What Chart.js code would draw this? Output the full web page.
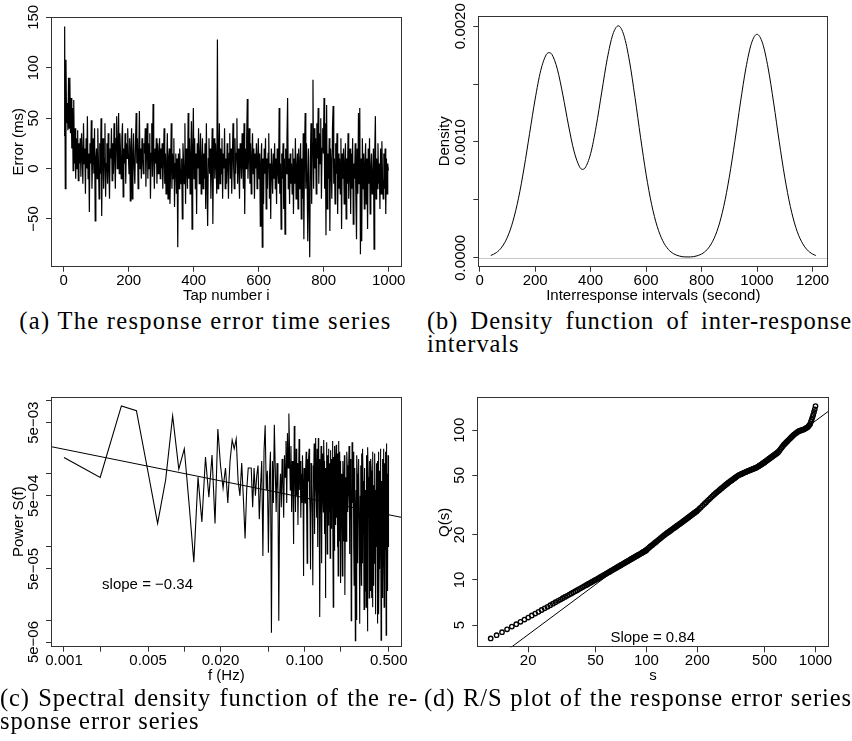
<!DOCTYPE html>
<html>
<head>
<meta charset="utf-8">
<title>Response error analysis</title>
<script src="https://cdn.jsdelivr.net/npm/chart.js@4.4.1/dist/chart.umd.min.js"></script>
<style>
  html, body { margin: 0; padding: 0; background: #fff; }
  #page { position: relative; width: 852px; height: 741px; overflow: hidden; }
  canvas { position: absolute; }
  .cap { position: absolute; font-family: "Liberation Serif", "Times New Roman", serif; font-size: 24.5px; line-height: 23px; letter-spacing: 0.9px; color: #000; }
  .cap .j { text-align: justify; text-align-last: justify; }
</style>
</head>
<body>
<div id="page">
  <canvas id="errChart" width="426" height="305" style="left:0;top:0"></canvas>
  <canvas id="densChart" width="426" height="305" style="left:426px;top:0"></canvas>
  <canvas id="specChart" width="426" height="305" style="left:0;top:380px"></canvas>
  <canvas id="rsChart" width="426" height="305" style="left:426px;top:380px"></canvas>

  <div class="cap" style="left:0;top:309px;width:411px;text-align:center;letter-spacing:1.3px">(a) The response error time series</div>
  <div class="cap" style="left:427px;top:309px;width:425px"><div class="j">(b) Density function of inter-response</div><div>intervals</div></div>
  <div class="cap" style="left:0;top:686px;width:418px"><div class="j">(c) Spectral density function of the re-</div><div>sponse error series</div></div>
  <div class="cap" style="left:424px;top:686px;width:428px"><div class="j">(d) R/S plot of the response error series</div></div>
</div>

<script>
// ---- (a) response error (ms), every second tap starting at tap 1
const tapFirst = 1;
const tapStep = 2;
const errorMs = [
  33, 141, -20, 108, 45, 65, 38, 90, 40, 90, 35, 70, 20, 60, -2, 68, 5, 40, -10, 30, 0, 38, -12, 25, 5,
  30, -8, 35, 15, -15, 45, 5, 20, -25, 30, 0, 52, -10, 15, -43, 25, 5, 48, -20, 10, 30, -5, 40, -52, 10,
  20, -10, 40, 5, -30, 25, -5, 50, -47, 15, 30, -20, 10, 45, -28, 5, 25, -15, 35, 0, -30, 20, 10, 40, -12,
  25, -5, 45, 10, -20, 30, 52, 0, 20, 55, -5, 35, 15, -10, 30, 45, -28, 20, 5, 35, -15, 25, 10, 40, 15,
  -5, 30, -32, 20, 40, -30, 10, 35, 0, -15, 25, 55, 5, 30, -20, 15, 57, 0, 20, -10, 30, 10, -5, 25, 15,
  40, -18, 20, 45, -10, 25, 0, 35, -30, 15, 45, -8, 64, 10, -20, 20, 5, 30, -15, 25, -5, 15, 30, -10, 20,
  0, 25, -20, 10, 40, -15, 15, -25, 5, 35, -30, 10, 20, -35, 0, 45, -20, 15, -10, 30, -38, 5, 15, -25, 10,
  -78, 15, -20, 20, 0, -15, 10, -50, 25, 5, -15, 45, -35, 20, 0, -20, 55, -10, 30, -25, 10, 47, -60, 20, 60,
  -10, 30, -20, 15, -45, 25, 0, 40, -15, 10, 35, -25, 5, 30, -20, 15, -10, 25, -40, 45, -15, -57, 10, 30, -5,
  20, -30, 5, 40, -55, 15, 30, -10, 25, 5, -25, 128, -20, 10, 45, -15, 20, -5, 30, -30, 15, 0, 40, -20, 10,
  -15, 25, 5, -30, 15, 35, -10, 20, -25, 10, 45, 0, -20, 30, -5, 15, 50, -15, 20, 0, -30, 25, 10, -10, 35,
  5, -20, 45, -45, 20, 0, 30, 69, -10, 15, 40, -15, 25, -25, 10, 35, -5, 20, -30, 15, 0, 25, -20, 10, 30,
  -10, 15, -57, 5, 25, -78, 10, -35, 20, -5, 30, -40, 10, -20, 15, 35, -30, 5, -50, 20, 0, -25, 15, -10, 25,
  -20, 10, -35, 20, 0, -15, 60, -25, 5, -60, 15, -10, 25, -40, 10, -65, 20, -5, 30, 70, -20, 10, -35, 15, -15,
  5, -25, 20, -45, 10, -15, 30, -30, 0, 15, -40, 20, -20, 5, 25, -50, 10, -30, 35, -70, 15, 55, -20, 25, -10,
  -72, 20, -30, -88, 10, 45, -35, 25, 88, -20, 40, 0, 30, -25, 45, 10, 60, -15, 35, 5, 50, -30, 20, 40, 15,
  70, -20, 45, -66, 63, -40, 15, -10, 30, -62, 20, 5, -30, 40, 62, -15, 10, -35, 25, -5, 35, -45, 15, -20, 10,
  -25, 30, -60, 15, -10, 20, -35, 5, 25, -50, 10, -15, 35, -30, 0, 20, -45, 15, -20, 30, -55, 5, -10, 25, -30,
  -70, 20, -25, 55, -15, 60, -85, 10, -72, 30, -20, 15, -40, 5, 25, -35, 10, -60, 20, -15, 30, -45, 0, 15, -25,
  -10, 20, -80, 15, 52, -30, 10, -20, 25, -15, 5, -40, 20, -25, 27, -10, -30, 15, -20, 20, -45, 10, -25, 5, -2
];
const errXTicks = [0, 200, 400, 600, 800, 1000];
const errYTicks = [-50, 0, 50, 100, 150];
const errYLabels = ['\u221250', '0', '50', '100', '150'];

// ---- (b) density of inter-response intervals
const iriSeconds = [40, 60, 80, 100, 120, 140, 160, 180, 200, 220, 240, 250, 260, 280, 300, 320, 340, 360, 370, 380,
  400, 420, 440, 460, 480, 500, 520, 540, 560, 580, 600, 620, 640, 660, 680, 700, 720, 740, 760, 780,
  800, 820, 840, 860, 880, 900, 920, 940, 960, 980, 1000, 1020, 1040, 1060, 1080, 1100, 1120, 1140, 1160, 1180, 1200, 1212];
const iriDensity = [0.0000196, 0.0000444, 0.0000927, 0.000178, 0.000316, 0.000515, 0.000775, 0.001074, 0.001371, 0.001616,
  0.001754, 0.001771, 0.001758, 0.001629, 0.001405, 0.001147, 0.000922, 0.000786, 0.000764, 0.000776,
  0.000899, 0.001134, 0.001430, 0.001719, 0.001928, 0.002003, 0.001921, 0.001699, 0.001385, 0.001041,
  0.000721, 0.000460, 0.000271, 0.000147, 0.000073, 0.000034, 0.000015, 0.0000075, 0.0000074, 0.0000145,
  0.0000326, 0.0000708, 0.000142, 0.000261, 0.000444, 0.000696, 0.001004, 0.001337, 0.001639, 0.001853,
  0.001930, 0.001853, 0.001639, 0.001337, 0.001004, 0.000696, 0.000444, 0.000261, 0.000142, 0.0000708, 0.0000326, 0.0000197];
const densXTicks = [0, 200, 400, 600, 800, 1000, 1200];
const densYTicks = [0, 0.0005, 0.001, 0.0015, 0.002];
const densYLabels = ['0.0000', '', '0.0010', '', '0.0020'];

// ---- (c) periodogram, Fourier index k (f = k / 1000)
const seriesLength = 1000;
const specBins = [[1, 200, 1], [202, 500, 2]];
const specPower = [
  // k = 1 .. 100
  1.67e-3, 8.9e-4, 8.5e-3, 7.3e-3, 1.05e-3, 2.1e-4, 8.3e-4, 6.2e-3, 1.16e-3, 2.2e-3,
  3.6e-4, 6.2e-5, 9.0e-4, 2.2e-4, 1.7e-3, 4.8e-4, 1.8e-3, 2.1e-4, 4.1e-3, 1.3e-3,
  6.4e-4, 1.2e-3, 4.0e-4, 1.5e-3, 2.9e-3, 2.2e-3, 3.0e-3, 8.0e-4, 5.0e-4, 1.4e-3,
  4.5e-4, 1.3e-4, 6.0e-4, 1.2e-3, 1.2e-3, 1.2e-3, 3.5e-4, 1.2e-3, 5.0e-4, 9.5e-4,
  1.3e-3, 2.4e-4, 6.5e-4, 1.5e-3, 7.5e-5, 2.1e-3, 4.6e-3, 6.0e-4, 1.1e-3, 8.3e-5,
  9.0e-4, 2.0e-3, 6.7e-6, 1.5e-3, 4.0e-4, 4.7e-3, 1.2e-3, 3.0e-4, 1.4e-3, 6.0e-4,
  9.8e-6, 5.0e-4, 1.0e-3, 3.5e-4, 1.6e-3, 7.0e-4, 2.5e-4, 1.8e-3, 9.0e-4, 2.8e-3,
  4.0e-4, 3.6e-3, 1.2e-3, 6.7e-3, 2.0e-3, 6.0e-4, 2.4e-3, 3.0e-4, 1.5e-3, 7.0e-4,
  1.1e-4, 4.5e-3, 1.0e-3, 3.0e-4, 2.2e-3, 5.0e-4, 1.4e-3, 2.0e-4, 8.0e-4, 3.0e-3,
  6.0e-4, 1.5e-3, 2.5e-4, 1.0e-3, 4.0e-4, 1.8e-3, 7.0e-4, 4.0e-5, 1.2e-3, 5.0e-4,
  // k = 101 .. 200
  4.0e-4, 1.1e-3, 2.0e-3, 3.0e-4, 6.0e-5, 1.6e-3, 8.0e-4, 1.7e-3, 2.2e-3, 5.0e-4,
  3.0e-4, 4.9e-5, 1.4e-3, 9.0e-4, 7.0e-4, 2.0e-4, 3.0e-5, 1.3e-3, 9.0e-4, 2.6e-3,
  1.5e-4, 6.0e-4, 1.2e-3, 3.1e-3, 5.0e-4, 2.5e-4, 2.2e-3, 1.4e-3, 1.0e-4, 3.1e-3,
  8.0e-4, 7.0e-4, 1.6e-3, 1.1e-5, 4.0e-4, 1.0e-3, 2.4e-3, 3.5e-4, 6.0e-5, 1.9e-3,
  1.1e-3, 6.0e-4, 3.0e-4, 2.9e-3, 1.5e-3, 1.5e-4, 7.0e-4, 1.2e-3, 2.0e-5, 4.0e-4,
  1.0e-3, 2.7e-3, 4.5e-4, 8.0e-5, 1.8e-3, 9.0e-4, 2.0e-4, 2.2e-3, 6.0e-4, 3.0e-4,
  1.4e-3, 1.3e-3, 7.0e-5, 5.0e-4, 2.1e-3, 1.8e-4, 9.0e-4, 1.6e-3, 3.5e-4, 2.8e-3,
  1.2e-3, 4.5e-4, 1.5e-5, 1.0e-3, 1.7e-3, 9.0e-5, 5.0e-4, 2.4e-3, 1.1e-3, 6.0e-4,
  2.0e-4, 1.2e-3, 2.5e-3, 2.5e-4, 6.0e-4, 1.9e-3, 1.0e-4, 7.0e-4, 1.4e-3, 4.0e-5,
  8.0e-4, 1.1e-3, 2.8e-3, 3.0e-4, 1.2e-4, 2.0e-3, 9.0e-4, 5.0e-4, 1.5e-3, 3.2e-5,
  // k = 202 .. 500, even
  1.0e-3, 6.0e-4, 4.0e-5, 1.5e-3, 7.0e-4, 1.2e-4, 1.8e-3, 2.2e-5, 3.0e-4, 9.0e-4,
  1.2e-4, 2.0e-3, 1.3e-3, 3.0e-4, 5.0e-4, 1.1e-3, 2.4e-3, 8.0e-5, 2.0e-4, 1.6e-3,
  8.0e-4, 9.8e-6, 1.5e-5, 2.7e-3, 1.1e-3, 4.0e-4, 2.0e-3, 1.0e-4, 3.0e-5, 1.2e-3,
  7.0e-4, 5.2e-6, 2.5e-4, 6.0e-4, 1.0e-5, 1.8e-3, 1.0e-3, 6.0e-5, 4.0e-4, 8.0e-4,
  1.6e-3, 2.0e-4, 2.0e-5, 8.9e-6, 5.0e-4, 1.3e-3, 1.5e-4, 3.0e-5, 1.9e-3, 7.0e-4,
  6.0e-5, 2.2e-3, 8.0e-4, 1.5e-4, 3.0e-4, 1.4e-5, 1.2e-3, 9.0e-4, 2.5e-5, 3.5e-4,
  6.0e-4, 1.5e-5, 1.8e-3, 1.4e-3, 1.2e-4, 5.0e-5, 7.0e-6, 2.3e-3, 9.0e-4, 2.5e-4,
  3.5e-4, 2.0e-5, 1.5e-3, 1.0e-3, 1.0e-4, 6.0e-5, 2.5e-5, 1.6e-3, 1.1e-3, 2.0e-5,
  5.0e-4, 4.0e-4, 1.5e-5, 1.2e-3, 2.0e-3, 3.0e-5, 2.0e-4, 7.0e-4, 6.0e-5, 1.5e-4,
  9.0e-4, 1.9e-3, 3.0e-4, 4.0e-5, 1.2e-5, 6.0e-4, 1.4e-3, 1.0e-4, 4.0e-4, 1.3e-3,
  7.0e-5, 9.0e-6, 1.5e-3, 5.0e-4, 2.5e-4, 2.0e-3, 1.2e-5, 7.0e-5, 1.0e-3, 1.1e-3,
  5.0e-5, 2.5e-4, 6.0e-4, 2.2e-3, 1.8e-3, 5.3e-6, 8.0e-5, 8.0e-4, 4.0e-4, 1.5e-4,
  2.0e-5, 1.6e-3, 1.2e-3, 3.0e-5, 3.0e-4, 9.0e-4, 2.2e-3, 2.0e-4, 1.5e-5, 1.4e-3,
  6.0e-4, 5.0e-5, 1.1e-3, 7.0e-4, 9.0e-5, 2.0e-3, 1.6e-3, 6.2e-6, 3.5e-4, 2.6e-3,
  1.0e-3, 3.0e-4, 2.5e-5, 1.0e-3, 7.0e-4, 3.9e-5, 1.8e-3, 1.2e-3, 2.0e-4, 1.0e-4
];
const specFitF = [0.0007, 0.7];
const specFitP = [2.44e-3, 2.46e-4];
const specXTicks = [0.001, 0.002, 0.005, 0.01, 0.02, 0.05, 0.1, 0.2, 0.5];
const specXLabels = ['0.001', '', '0.005', '', '0.020', '', '0.100', '', '0.500'];
const specYTicks = [1e-2, 5e-3, 1e-3, 5e-4, 1e-4, 5e-5, 1e-5, 5e-6];
const specYLabels = ['', '5e\u221203', '', '5e\u221204', '', '5e\u221205', '', '5e\u221206'];

// ---- (d) rescaled range Q(s) against window size s
const rsBins = [[12, 100, 1], [102, 200, 2], [205, 500, 5], [510, 1000, 10]];
const rsQ = [
  // s = 12 .. 100
  4.07, 4.28, 4.48, 4.68, 4.88, 5.07, 5.25, 5.44, 5.61, 5.79, 5.96, 6.13, 6.30, 6.46, 6.62,
  6.78, 6.94, 7.10, 7.25, 7.40, 7.55, 7.70, 7.84, 7.99, 8.13, 8.27, 8.41, 8.55, 8.69,
  8.83, 8.96, 9.10, 9.23, 9.36, 9.49, 9.62, 9.75, 9.88, 10.0, 10.13, 10.26, 10.39, 10.52, 10.65,
  10.78, 10.91, 11.03, 11.16, 11.28, 11.41, 11.53, 11.65, 11.77, 11.89, 12.01, 12.13, 12.25, 12.37, 12.49,
  12.61, 12.72, 12.84, 12.95, 13.07, 13.18, 13.30, 13.41, 13.53, 13.64, 13.75, 13.86, 13.97, 14.08, 14.19,
  14.30, 14.41, 14.52, 14.63, 14.73, 14.84, 14.95, 15.06, 15.16, 15.27, 15.37, 15.48, 15.58, 15.69, 15.80,
  // s = 102 .. 200
  16.15, 16.49, 16.79, 17.08, 17.38, 17.67, 17.96, 18.25, 18.55, 18.84, 19.13, 19.42, 19.71, 20.0,
  20.26, 20.51, 20.77, 21.02, 21.27, 21.52, 21.78, 22.03, 22.28, 22.53, 22.78, 23.02, 23.27, 23.52, 23.76, 24.0,
  24.26, 24.51, 24.77, 25.02, 25.27, 25.52, 25.78, 26.03, 26.28, 26.53, 26.78, 27.02, 27.28, 27.53, 27.78,
  28.02, 28.27, 28.52, 28.76, 29.0,
  // s = 205 .. 500
  29.79, 30.58, 31.38, 32.18, 32.97, 33.77, 34.58, 35.37, 36.18, 37.0, 37.70, 38.41, 39.10, 39.80, 40.51,
  41.20, 41.91, 42.60, 43.30, 44.0,
  44.61, 45.21, 45.82, 46.42, 47.02, 47.62, 48.22, 48.82, 49.41, 50.0, 50.36, 50.72, 51.08, 51.43, 51.78,
  52.13, 52.48, 52.82, 53.16, 53.5, 53.81, 54.11, 54.42, 54.72, 55.02, 55.32, 55.62, 55.91, 56.21, 56.5,
  56.96, 57.41, 57.86, 58.31, 58.77, 59.22, 59.67, 60.11, 60.56, 61.0,
  // s = 510 .. 1000
  62.0, 63.0, 64.0, 65.0, 66.0, 67.0, 68.0, 69.0, 70.0, 71.0, 72.8, 74.6, 76.4, 78.2, 80.0,
  81.4, 82.8, 84.2, 85.6, 87.0, 88.4, 89.8, 91.2, 92.6, 94.0, 95.0, 96.0, 97.0, 98.0, 99.0,
  99.4, 99.8, 100.2, 100.6, 101.0, 101.8, 102.6, 103.4, 104.2, 105.0, 106.7, 108.3, 110.0, 114.0, 118.0,
  122.5, 127.0, 132.5, 138.0, 145.0
];
const rsFitS = [10, 1200];
const rsFitQ = [2.41, 134.6];
const rsXTicks = [20, 50, 100, 200, 500, 1000];
const rsYTicks = [5, 10, 20, 50, 100];

// ---- helpers
const FONT = { family: '"Liberation Sans", Arial, Helvetica, sans-serif', size: 15 };

function expand(bins) {
  const out = [];
  bins.forEach(([a, b, st]) => { for (let v = a; v <= b; v += st) out.push(v); });
  return out;
}
function pairs(xs, ys) { return ys.map((y, i) => ({ x: xs[i], y })); }

// R-like box, rotated y tick labels, optional reference line and text note
const rBox = {
  id: 'rBox',
  beforeDatasetsDraw(chart, args, opts) {
    if (opts.hline === undefined) return;
    const { ctx, chartArea: a } = chart;
    const y = Math.round(chart.scales.y.getPixelForValue(opts.hline)) + 0.5;
    ctx.save();
    ctx.strokeStyle = '#c8c8c8';
    ctx.lineWidth = 1;
    ctx.beginPath(); ctx.moveTo(a.left, y); ctx.lineTo(a.right, y); ctx.stroke();
    ctx.restore();
  },
  afterDraw(chart, args, opts) {
    const { ctx, chartArea: a } = chart;
    const ys = chart.scales.y;
    ctx.save();
    ctx.strokeStyle = '#333';
    ctx.lineWidth = 1;
    const l = Math.round(a.left) + 0.5, t = Math.round(a.top) + 0.5;
    const r = Math.round(a.right) - 0.5, b = Math.round(a.bottom) - 0.5;
    ctx.strokeRect(l, t, r - l, b - t);
    ctx.fillStyle = '#000';
    ctx.font = FONT.size + 'px ' + FONT.family;
    ctx.textAlign = 'center';
    ctx.textBaseline = 'middle';
    opts.yTicks.forEach((v, i) => {
      const txt = opts.yLabels[i];
      if (!txt) return;
      ctx.save();
      ctx.translate(a.left - 17.5, ys.getPixelForValue(v));
      ctx.rotate(-Math.PI / 2);
      ctx.fillText(txt, 0, 0);
      ctx.restore();
    });
    if (opts.note) {
      ctx.fillText(opts.note.text, chart.scales.x.getPixelForValue(opts.note.x), ys.getPixelForValue(opts.note.y));
    }
    ctx.restore();
  }
};

function axis(type, min, max, ticks, labels, title, size, isX, titlePad) {
  return {
    type, min, max,
    afterBuildTicks: s => { s.ticks = ticks.map(v => ({ value: v })); },
    afterFit: s => { if (isX) s.height = size; else s.width = size; },
    grid: { drawOnChartArea: false, drawTicks: true, tickLength: 5, color: '#333', lineWidth: 1 },
    border: { display: false },
    ticks: isX
      ? { autoSkip: false, maxRotation: 0, minRotation: 0, padding: 0, color: '#000', font: FONT, callback: (v, i) => labels[i] }
      : { display: false },
    title: {
      display: true, text: title, color: '#000', font: FONT,
      padding: isX ? { top: 0, bottom: titlePad } : { top: titlePad, bottom: 0 }
    }
  };
}

function rChart(id, datasets, pad, x, y, boxOpts) {
  return new Chart(document.getElementById(id), {
    type: 'line',
    data: { datasets },
    options: {
      responsive: false,
      animation: false,
      devicePixelRatio: 1,
      layout: { padding: pad },
      elements: { point: { radius: 0 }, line: { tension: 0 } },
      plugins: { legend: { display: false }, tooltip: { enabled: false }, rBox: boxOpts },
      scales: { x, y }
    },
    plugins: [rBox]
  });
}

// ---- (a)
const errorTap = errorMs.map((_, i) => tapFirst + i * tapStep);
rChart('errChart',
  [{ data: pairs(errorTap, errorMs), borderColor: '#000', borderWidth: 1.2 }],
  { top: 16.7, right: 24.3, left: 0, bottom: 0 },
  axis('linear', -39, 1040, errXTicks, errXTicks.map(String), 'Tap number i', 38.3, true, 0.3),
  axis('linear', -97.3, 150.6, errYTicks, errYLabels, 'Error (ms)', 51, false, 9.5),
  { yTicks: errYTicks, yLabels: errYLabels });

// ---- (b)
rChart('densChart',
  [{ data: pairs(iriSeconds, iriDensity), borderColor: '#000', borderWidth: 1, cubicInterpolationMode: 'monotone' }],
  { top: 16, right: 23.7, left: 0, bottom: 0 },
  axis('linear', -5, 1257, densXTicks, densXTicks.map(String), 'Interresponse intervals (second)', 38.3, true, 0.3),
  axis('linear', -0.000077, 0.002088, densYTicks, densYLabels, 'Density', 52.3, false, 9.5),
  { yTicks: densYTicks, yLabels: densYLabels, hline: 0 });

// ---- (c)
const specFreq = expand(specBins).map(k => k / seriesLength);
rChart('specChart',
  [
    { data: pairs(specFreq, specPower), borderColor: '#000', borderWidth: 1.1 },
    { data: pairs(specFitF, specFitP), borderColor: '#000', borderWidth: 1 }
  ],
  { top: 16.7, right: 24.3, left: 0, bottom: 0 },
  axis('logarithmic', 7.8e-4, 0.641, specXTicks, specXLabels, 'f (Hz)', 38.3, true, 0.3),
  axis('logarithmic', 4.32e-6, 1.134e-2, specYTicks, specYLabels, 'Power S(f)', 51, false, 9.5),
  { yTicks: specYTicks, yLabels: specYLabels, note: { text: 'slope = \u22120.34', x: 0.00495, y: 3.06e-5 } });

// ---- (d)
const rsS = expand(rsBins);
rChart('rsChart',
  [
    { data: pairs(rsFitS, rsFitQ), borderColor: '#000', borderWidth: 1 },
    { data: pairs(rsS, rsQ), showLine: false, pointRadius: 2.2, pointBorderWidth: 1.4,
      pointBorderColor: '#000', pointBackgroundColor: 'rgba(0,0,0,0)' }
  ],
  { top: 17.3, right: 23.3, left: 0, bottom: 0 },
  axis('logarithmic', 10, 1197, rsXTicks, rsXTicks.map(String), 's', 37.7, true, 0.3),
  axis('logarithmic', 3.55, 166, rsYTicks, rsYTicks.map(String), 'Q(s)', 51.3, false, 9.5),
  { yTicks: rsYTicks, yLabels: rsYTicks.map(String), note: { text: 'Slope = 0.84', x: 109, y: 4.08 } });

if (errorMs.length !== 500 || specPower.length !== specFreq.length || rsQ.length !== rsS.length) {
  console.error('length mismatch', errorMs.length, specPower.length, specFreq.length, rsQ.length, rsS.length);
}
</script>
</body>
</html>
